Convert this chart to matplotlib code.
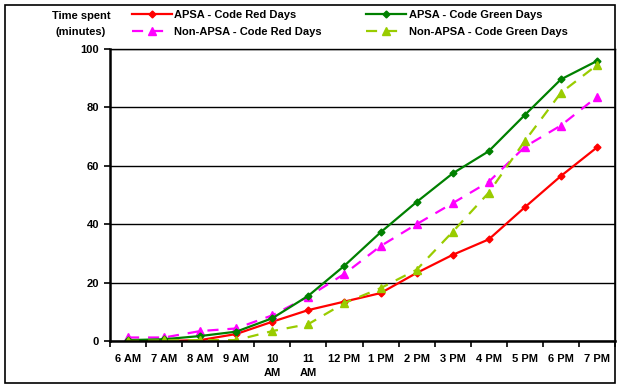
import matplotlib
matplotlib.use("Agg")
import matplotlib.pyplot as plt
from matplotlib.patches import Rectangle

categories = ["6 AM", "7 AM", "8 AM", "9 AM", "10\nAM", "11\nAM", "12 PM",
              "1 PM", "2 PM", "3 PM", "4 PM", "5 PM", "6 PM", "7 PM"]
apsa_red = [0.0, 0.0, 0.3, 2.4, 6.6, 10.6, 13.5, 16.4, 23.3, 29.5, 34.8, 45.8, 56.5, 66.3]
apsa_green = [0.3, 0.6, 1.7, 3.2, 7.8, 15.5, 25.8, 37.2, 47.6, 57.4, 65.0, 77.4, 89.6, 95.9]
non_apsa_red = [1.2, 1.2, 3.4, 4.3, 8.8, 15.2, 23.0, 32.5, 40.0, 47.2, 54.5, 66.5, 73.8, 83.6]
non_apsa_green = [0.0, 0.2, 0.3, 0.3, 3.4, 5.8, 13.0, 18.1, 24.4, 37.4, 50.8, 68.5, 85.0, 94.5]
yticks = [0, 20, 40, 60, 80, 100]

plt.rcParams['font.family'] = ['Liberation Sans', 'DejaVu Sans']
plt.rcParams['font.weight'] = 'bold'

W, H = 621, 389
fig = plt.figure(figsize=(W / 100, H / 100), dpi=100)
ax = fig.add_axes([110 / W, (H - 341) / H, (615 - 110) / W, (341 - 49) / H])

x = list(range(len(categories)))
l1, = ax.plot(x, apsa_red, color='#FF0000', lw=1.6, marker='D', ms=3.5,
              label='APSA - Code Red Days')
l3, = ax.plot(x, non_apsa_red, color='#FF00FF', lw=1.6, ls=(0, (5, 4)), marker='^',
              ms=5.5, label='Non-APSA - Code Red Days')
l2, = ax.plot(x, apsa_green, color='#008000', lw=1.6, marker='D', ms=3.5,
              label='APSA - Code Green Days')
l4, = ax.plot(x, non_apsa_green, color='#99CC00', lw=1.6, ls=(0, (5, 4)), marker='^',
              ms=5.5, label='Non-APSA - Code Green Days')

ax.set_xlim(-0.5, len(categories) - 0.5)
ax.set_ylim(0, 100)
ax.set_yticks(yticks)
ax.set_yticklabels([str(v) for v in yticks], fontsize=8, fontweight='bold')
ax.set_xticks(x)
ax.set_xticklabels(categories, fontsize=8, fontweight='bold', linespacing=1.55, va='top')
ax.tick_params(axis='x', length=0, pad=9)
ax.set_xticks([i - 0.5 for i in range(len(categories) + 1)], minor=True)
ax.tick_params(axis='x', which='minor', length=4, width=1.2, direction='out')
ax.tick_params(axis='y', length=4, width=1.2, direction='out', pad=4)
ax.grid(axis='y', color='black', lw=1)
ax.set_axisbelow(True)
for s in ['left', 'bottom']:
    ax.spines[s].set_linewidth(1.8)
for s in ['top', 'right']:
    ax.spines[s].set_linewidth(1.0)

fig.text(81 / W, 1 - 24 / H, "Time spent\n(minutes)", ha='center', va='center',
         fontsize=8, fontweight='bold', linespacing=1.75)

leg = fig.legend(handles=[l1, l3, l2, l4], ncol=2, loc='upper left',
                 bbox_to_anchor=(132 / W, 1 - 10 / H), frameon=False,
                 fontsize=8, handlelength=3.6, handletextpad=0.2,
                 columnspacing=4.0, labelspacing=0.65, borderaxespad=0,
                 borderpad=0)

fig.patches.append(Rectangle((5 / W, (H - 383) / H), 610 / W, 378 / H,
                             transform=fig.transFigure, fill=False,
                             edgecolor='black', lw=1.2))

fig.savefig("out.png", dpi=100)
